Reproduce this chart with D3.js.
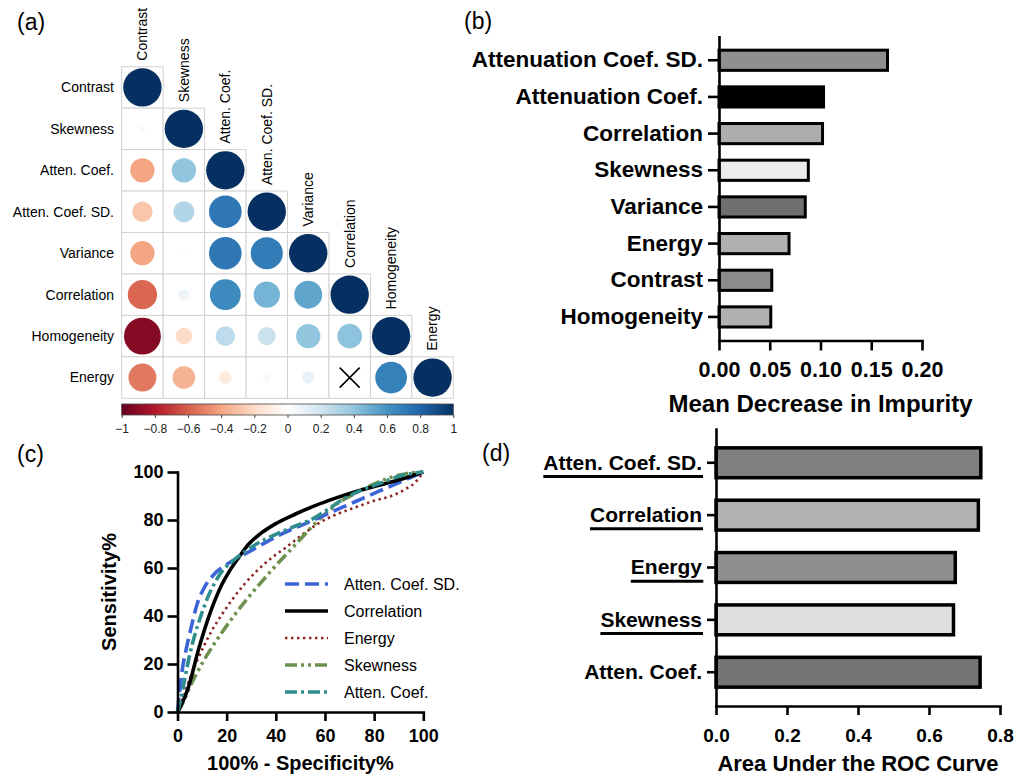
<!DOCTYPE html>
<html>
<head>
<meta charset="utf-8">
<script src="https://cdn.jsdelivr.net/npm/d3@7"></script>
<style>
  body { margin: 0; background: #fff; }
  svg { display: block; font-family: "Liberation Sans", Arial, Helvetica, sans-serif; }
</style>
</head>
<body>
<svg id="fig" width="1017" height="778"></svg>
<script>
// ---- data -------------------------------------------------------------

// (a) correlation matrix, lower triangle, row by row
var corrVars = ["Contrast", "Skewness", "Atten. Coef.", "Atten. Coef. SD.",
                "Variance", "Correlation", "Homogeneity", "Energy"];
var corrLower = [
  [1],
  [0.03, 1],
  [-0.40, 0.40, 1],
  [-0.28, 0.30, 0.72, 1],
  [-0.40, -0.02, 0.72, 0.70, 1],
  [-0.58, 0.08, 0.64, 0.47, 0.53, 1],
  [-0.92, -0.19, 0.26, 0.22, 0.40, 0.41, 1],
  [-0.53, -0.35, -0.11, 0.04, 0.10, 0.00, 0.68, 1]
];
// pairs marked as not significant (drawn with a cross)
var corrInsig = [["Energy", "Correlation"]];
var corrStops = [-1, -0.8, -0.6, -0.4, -0.2, 0, 0.2, 0.4, 0.6, 0.8, 1];
var corrColors = ["#67001F", "#B2182B", "#D6604D", "#F4A582", "#FDDBC7", "#FFFFFF",
                  "#D1E5F0", "#92C5DE", "#4393C3", "#2166AC", "#053061"];
var colorbarTicks = [-1, -0.8, -0.6, -0.4, -0.2, 0, 0.2, 0.4, 0.6, 0.8, 1];

// (b) mean decrease in impurity
var impFeatures = ["Attenuation Coef. SD.", "Attenuation Coef.", "Correlation", "Skewness",
                   "Variance", "Energy", "Contrast", "Homogeneity"];
var impValues = [0.166, 0.103, 0.102, 0.088, 0.085, 0.069, 0.052, 0.051];
var impFills = ["#8f8f8f", "#000000", "#adadad", "#ececec", "#707070", "#b0b0b0", "#8c8c8c", "#b0b0b0"];
var impTicks = [0, 0.05, 0.10, 0.15, 0.20];

// (c) ROC curves: [100% - specificity, sensitivity]
var rocNames = ["Atten. Coef. SD.", "Correlation", "Energy", "Skewness", "Atten. Coef."];
var rocAttenSD = [[0,0],[0.8,8],[2,18],[3.5,26],[5.5,35],[8,45],[11,52],[15,57.5],[20,61.5],
  [26,65],[33,69],[42,74],[52,78.5],[62,83],[72,87.5],[82,92],[91,96],[100,100]];
var rocCorrelation = [[0,0],[2,4],[4,9],[6,16],[8,24],[10,31],[12.5,39],[15,46],[18,53],[21,58.5],
  [25,64.5],[29,70],[34,74.5],[40,78.5],[48,82.5],[56,86],[64,89],[73,92],[82,94.5],[91,97],[100,100]];
var rocEnergy = [[0,0],[2,5],[4,11],[6,16.5],[8,21.5],[11,28],[14,34],[18,40.5],[22,46.5],[27,53],
  [32,58.5],[38,64],[44,68.5],[51,74],[58,79],[65,82.5],[73,85.5],[80,88],[87,90],[93,93],[97,96],[100,100]];
var rocSkewness = [[0,0],[2,3.5],[5,10.5],[8,16.5],[11,22],[15,28.5],[19,34.5],[24,41.5],[29,48],
  [34,54],[40,61],[45,66.5],[50,72],[55,77.5],[60,82.5],[66,87.5],[72,91],[79,94.5],[86,97.5],[93,99.3],[100,100]];
var rocAtten = [[0,0],[1.5,6],[3,14],[5,24],[7,32],[9.5,40],[12,47],[15,53.5],[18,58.5],[22,62.5],
  [27,66.5],[33,70.5],[40,74],[48,77.5],[55,80.5],[62,85],[68,89],[75,92.5],[83,95.5],[91,98.5],[100,100]];
var rocTicks = [0, 20, 40, 60, 80, 100];

// (d) area under the ROC curve
var aucFeatures = ["Atten. Coef. SD.", "Correlation", "Energy", "Skewness", "Atten. Coef."];
var aucValues = [0.746, 0.739, 0.674, 0.669, 0.744];
var aucUnderlined = ["Atten. Coef. SD.", "Correlation", "Energy", "Skewness"];
var aucFills = ["#808080", "#b1b1b1", "#8f8f8f", "#dedede", "#737373"];
var aucTicks = [0, 0.2, 0.4, 0.6, 0.8];

// ---- drawing ----------------------------------------------------------
var svg = d3.select("#fig");

function panelLabel(txt, x, y) {
  svg.append("text").attr("x", x).attr("y", y)
    .style("font-size", "23px").text(txt);
}

function boldAxis(g, size) {
  g.selectAll("path.domain").attr("stroke", "#000").attr("stroke-width", 2.6)
    .attr("stroke-linecap", "square");
  g.selectAll(".tick line").attr("stroke", "#000").attr("stroke-width", 2.6);
  g.selectAll(".tick text").attr("fill", "#000")
    .style("font-size", size + "px").style("font-weight", "bold");
}

// (a) ---------------------------------------------------------------
(function () {
  var g = svg.append("g");
  var xb = d3.scaleBand().domain(corrVars).range([121.7, 453.3]);
  var yb = d3.scaleBand().domain(corrVars).range([66.7, 398.3]);
  var bw = xb.bandwidth();
  var color = d3.scaleLinear().domain(corrStops).range(corrColors);
  var rad = d3.scaleSqrt().domain([0, 1]).range([0, bw * 0.463]);

  var cells = [];
  corrLower.forEach(function (row, i) {
    row.forEach(function (v, j) {
      cells.push({ row: corrVars[i], col: corrVars[j], v: v });
    });
  });
  var insig = function (d) {
    return corrInsig.some(function (p) { return p[0] === d.row && p[1] === d.col; });
  };

  g.selectAll("rect.cell").data(cells).enter().append("rect")
    .attr("class", "cell")
    .attr("x", function (d) { return xb(d.col); })
    .attr("y", function (d) { return yb(d.row); })
    .attr("width", bw).attr("height", bw)
    .attr("fill", "#fff").attr("stroke", "#d2d2d2").attr("stroke-width", 1);

  g.selectAll("circle").data(cells.filter(function (d) { return !insig(d); })).enter().append("circle")
    .attr("cx", function (d) { return xb(d.col) + bw / 2; })
    .attr("cy", function (d) { return yb(d.row) + bw / 2; })
    .attr("r", function (d) { return rad(Math.abs(d.v)); })
    .attr("fill", function (d) { return color(d.v); });

  cells.filter(insig).forEach(function (d) {
    var cx = xb(d.col) + bw / 2, cy = yb(d.row) + bw / 2, s = 10;
    g.append("path")
      .attr("d", "M" + (cx - s) + "," + (cy - s) + "L" + (cx + s) + "," + (cy + s) +
                 "M" + (cx + s) + "," + (cy - s) + "L" + (cx - s) + "," + (cy + s))
      .attr("stroke", "#000").attr("stroke-width", 1.6);
  });

  // row labels
  g.selectAll("text.row").data(corrVars).enter().append("text")
    .attr("class", "row")
    .attr("x", 114)
    .attr("y", function (d) { return yb(d) + bw / 2; })
    .attr("dy", "0.35em").attr("text-anchor", "end")
    .style("font-size", "14px").text(function (d) { return d; });

  // column labels above the diagonal
  g.selectAll("text.col").data(corrVars).enter().append("text")
    .attr("class", "col")
    .attr("transform", function (d) {
      return "translate(" + (xb(d) + bw / 2) + "," + (yb(d) - 6) + ") rotate(-90)";
    })
    .attr("dy", "0.35em").attr("text-anchor", "start")
    .style("font-size", "14px").text(function (d) { return d; });

  // colour bar
  var defs = svg.append("defs");
  var grad = defs.append("linearGradient").attr("id", "cbar")
    .attr("x1", "0%").attr("x2", "100%").attr("y1", "0%").attr("y2", "0%");
  corrStops.forEach(function (s, i) {
    grad.append("stop").attr("offset", ((s + 1) / 2 * 100) + "%").attr("stop-color", corrColors[i]);
  });
  var cx = d3.scaleLinear().domain([-1, 1]).range([121.7, 453.3]);
  g.append("rect").attr("x", cx(-1)).attr("y", 404).attr("width", cx(1) - cx(-1)).attr("height", 11)
    .attr("fill", "url(#cbar)").attr("stroke", "#444").attr("stroke-width", 0.8);
  var cax = g.append("g").attr("transform", "translate(0,415)")
    .call(d3.axisBottom(cx).tickValues(colorbarTicks).tickFormat(d3.format("~g"))
      .tickSize(3).tickPadding(6));
  cax.select("path.domain").remove();
  cax.selectAll(".tick line").attr("stroke", "#444");
  cax.selectAll(".tick text").attr("fill", "#222").style("font-size", "12px");
})();

// (b) ---------------------------------------------------------------
(function () {
  var g = svg.append("g");
  var x = d3.scaleLinear().domain([0, 0.2]).range([719, 922]);
  var y = d3.scaleBand().domain(impFeatures).range([36.7, 340.5])
    .paddingInner(0.45).paddingOuter(0.3675);

  g.selectAll("rect").data(impFeatures).enter().append("rect")
    .attr("x", x(0))
    .attr("y", function (d) { return y(d); })
    .attr("width", function (d, i) { return x(impValues[i]) - x(0); })
    .attr("height", y.bandwidth())
    .attr("fill", function (d, i) { return impFills[i]; })
    .attr("stroke", "#000").attr("stroke-width", 3);

  var ya = g.append("g").attr("transform", "translate(" + x(0) + ",0)")
    .call(d3.axisLeft(y).tickSize(11).tickPadding(5).tickSizeOuter(0));
  boldAxis(ya, 22.5);
  var xa = g.append("g").attr("transform", "translate(0,340.5)")
    .call(d3.axisBottom(x).tickValues(impTicks).tickFormat(d3.format(".2f"))
      .tickSize(10).tickPadding(11).tickSizeOuter(0));
  boldAxis(xa, 21.5);

  g.append("text").attr("x", (x.range()[0] + x.range()[1]) / 2).attr("y", 412)
    .attr("text-anchor", "middle").style("font-size", "24px").style("font-weight", "bold")
    .text("Mean Decrease in Impurity");
})();

// (c) ---------------------------------------------------------------
(function () {
  var g = svg.append("g");
  var x = d3.scaleLinear().domain([0, 100]).range([177.5, 423.3]);
  var y = d3.scaleLinear().domain([0, 100]).range([712, 472]);
  var series = [rocAttenSD, rocCorrelation, rocEnergy, rocSkewness, rocAtten];
  var styles = [
    { color: "#3c64d8", dash: "14,6", width: 3.6 },
    { color: "#000000", dash: null, width: 3.6 },
    { color: "#8a2525", dash: "2.4,3.6", width: 2.6 },
    { color: "#6f9150", dash: "12,4,3,4,3,4", width: 3.6 },
    { color: "#2f8e8c", dash: "12,4,3,4", width: 3.6 }
  ];
  var line = d3.line()
    .x(function (d) { return x(d[0]); })
    .y(function (d) { return y(d[1]); })
    .curve(d3.curveMonotoneX);

  // draw order so that the black curve sits near the top as in the figure
  var order = [2, 3, 0, 1, 4];
  order.forEach(function (k) {
    g.append("path").datum(series[k])
      .attr("d", line).attr("fill", "none")
      .attr("stroke", styles[k].color).attr("stroke-width", styles[k].width)
      .attr("stroke-dasharray", styles[k].dash);
  });

  var ya = g.append("g").attr("transform", "translate(" + x(0) + ",0)")
    .call(d3.axisLeft(y).tickValues(rocTicks).tickSize(10).tickPadding(4).tickSizeOuter(0));
  boldAxis(ya, 18);
  var xa = g.append("g").attr("transform", "translate(0," + y(0) + ")")
    .call(d3.axisBottom(x).tickValues(rocTicks).tickSize(9).tickPadding(8).tickSizeOuter(0));
  boldAxis(xa, 18);

  g.append("text").attr("x", (x.range()[0] + x.range()[1]) / 2).attr("y", 770)
    .attr("text-anchor", "middle").style("font-size", "20px").style("font-weight", "bold")
    .text("100% - Specificity%");
  g.append("text").attr("transform", "translate(116," + ((y.range()[0] + y.range()[1]) / 2) + ") rotate(-90)")
    .attr("text-anchor", "middle").style("font-size", "20px").style("font-weight", "bold")
    .text("Sensitivity%");

  // legend
  var lg = g.append("g");
  rocNames.forEach(function (name, k) {
    var yy = 584 + k * 27;
    lg.append("line").attr("x1", 285).attr("x2", 328).attr("y1", yy).attr("y2", yy)
      .attr("stroke", styles[k].color).attr("stroke-width", styles[k].width)
      .attr("stroke-dasharray", styles[k].dash);
    lg.append("text").attr("x", 344).attr("y", yy).attr("dy", "0.35em")
      .style("font-size", "16px").text(name);
  });
})();

// (d) ---------------------------------------------------------------
(function () {
  var g = svg.append("g");
  var x = d3.scaleLinear().domain([0, 0.8]).range([716, 1000]);
  var y = d3.scaleBand().domain(aucFeatures).range([429, 706])
    .paddingInner(0.43).paddingOuter(0.36);

  g.selectAll("rect").data(aucFeatures).enter().append("rect")
    .attr("x", x(0))
    .attr("y", function (d) { return y(d); })
    .attr("width", function (d, i) { return x(aucValues[i]) - x(0); })
    .attr("height", y.bandwidth())
    .attr("fill", function (d, i) { return aucFills[i]; })
    .attr("stroke", "#000").attr("stroke-width", 3.5);

  var ya = g.append("g").attr("transform", "translate(" + x(0) + ",0)")
    .call(d3.axisLeft(y).tickSize(9).tickPadding(5).tickSizeOuter(0));
  boldAxis(ya, 21);
  var xa = g.append("g").attr("transform", "translate(0,706)")
    .call(d3.axisBottom(x).tickValues(aucTicks).tickFormat(d3.format(".1f"))
      .tickSize(9).tickPadding(14).tickSizeOuter(0));
  boldAxis(xa, 19);

  // underline the significant features
  ya.selectAll(".tick").each(function (d) {
    if (aucUnderlined.indexOf(d) < 0) return;
    var t = d3.select(this).select("text").node().getBBox();
    d3.select(this).append("line")
      .attr("x1", t.x).attr("x2", t.x + t.width + 1)
      .attr("y1", 13.7).attr("y2", 13.7)
      .attr("stroke", "#000").attr("stroke-width", 3);
  });

  g.append("text").attr("x", (x.range()[0] + x.range()[1]) / 2).attr("y", 771)
    .attr("text-anchor", "middle").style("font-size", "22px").style("font-weight", "bold")
    .text("Area Under the ROC Curve");
})();

panelLabel("(a)", 17, 30);
panelLabel("(b)", 464, 29);
panelLabel("(c)", 17, 462);
panelLabel("(d)", 482, 461);
</script>
</body>
</html>
